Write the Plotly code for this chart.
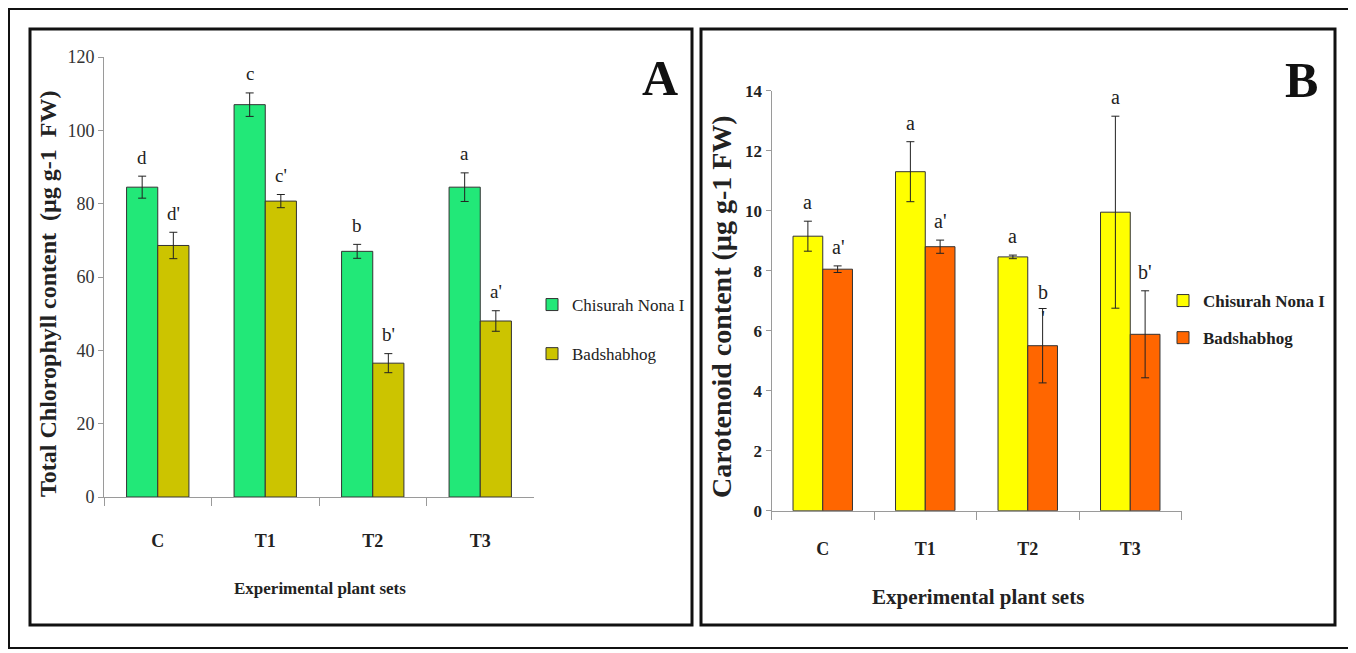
import plotly.graph_objects as go

W, H = 1356, 653

# ---------------- data ----------------
categories = ["C", "T1", "T2", "T3"]
series_names = ["Chisurah Nona I", "Badshabhog"]

chl_chisurah = [84.5, 107.0, 67.0, 84.5]
chl_chisurah_err = [3.0, 3.2, 1.9, 3.9]
chl_badshabhog = [68.6, 80.7, 36.5, 48.0]
chl_badshabhog_err = [3.6, 1.8, 2.6, 2.8]
chl_letters_chisurah = ["d", "c", "b", "a"]
chl_letters_badshabhog = ["d'", "c'", "b'", "a'"]

car_chisurah = [9.15, 11.3, 8.46, 9.95]
car_chisurah_err = [0.5, 1.0, 0.06, 3.2]
car_badshabhog = [8.05, 8.8, 5.5, 5.88]
car_badshabhog_err = [0.11, 0.22, 1.24, 1.45]
car_letters_chisurah = ["a", "a", "a", "a"]
car_letters_badshabhog = ["a'", "a'", "b<br>'", "b'"]

chl_ticks = [0, 20, 40, 60, 80, 100, 120]
car_ticks = [0, 2, 4, 6, 8, 10, 12, 14]

# ---------------- style ----------------
FONT = "Liberation Serif"
GREEN, OLIVE = "#22E878", "#CCC400"
YELLOW, ORANGE = "#FFFF00", "#FF6600"
BARGAP = 0.42
OFF = (1 - BARGAP) / 4  # half of one bar width, in category units
PAGE_OFFSET = 8  # the page body margin shifts the figure by 8 px


def X(px):
    return (px - PAGE_OFFSET) / W


def Y(py):
    return 1 - (py - PAGE_OFFSET) / H


fig = go.Figure()


def add_bars(xa, ya, vals, errs, color, name, legend, group):
    fig.add_trace(go.Bar(
        x=categories, y=vals, name=name, xaxis=xa, yaxis=ya,
        marker=dict(color=color, line=dict(color="#333333", width=1)),
        error_y=dict(type="data", array=errs, visible=True,
                     color="#222222", thickness=1, width=4),
        legend=legend, legendgroup=group,
    ))


add_bars("x", "y", chl_chisurah, chl_chisurah_err, GREEN, series_names[0], "legend", "a1")
add_bars("x", "y", chl_badshabhog, chl_badshabhog_err, OLIVE, series_names[1], "legend", "a2")
add_bars("x2", "y2", car_chisurah, car_chisurah_err, YELLOW, series_names[0], "legend2", "b1")
add_bars("x2", "y2", car_badshabhog, car_badshabhog_err, ORANGE, series_names[1], "legend2", "b2")

annotations = []


def add_letters(xref, yref, vals, errs, letters, side, size):
    for i, (v, e, t) in enumerate(zip(vals, errs, letters)):
        two = "<br>" in t
        annotations.append(dict(
            x=i + side * OFF, y=v + e, xref=xref, yref=yref, text=t,
            showarrow=False, yanchor="middle", xanchor="center",
            yshift=(4 if two else 19),
            font=dict(family=FONT, size=size, color="#222222"),
        ))


add_letters("x", "y", chl_chisurah, chl_chisurah_err, chl_letters_chisurah, -1, 19)
add_letters("x", "y", chl_badshabhog, chl_badshabhog_err, chl_letters_badshabhog, 1, 19)
add_letters("x2", "y2", car_chisurah, car_chisurah_err, car_letters_chisurah, -1, 20)
add_letters("x2", "y2", car_badshabhog, car_badshabhog_err, car_letters_badshabhog, 1, 20)


def label(px, py, text, size, bold=True, angle=0, color="#222222"):
    return dict(x=X(px), y=Y(py), xref="paper", yref="paper", showarrow=False,
                xanchor="center", yanchor="middle", text=text, textangle=angle,
                font=dict(family=FONT, size=size, color=color,
                          weight="bold" if bold else "normal"))


annotations += [
    label(48, 294, "Total Chlorophyll content  (µg g-1  FW)", 24, angle=-90),
    label(320, 588, "Experimental plant sets", 17),
    label(721, 306, "Carotenoid content (µg g-1 FW)", 28, angle=-90),
    label(978, 597, "Experimental plant sets", 21),
    label(660, 78, "A", 50, color="#111111"),
    label(1301, 80, "B", 50, color="#111111"),
]

shapes = [
    dict(type="rect", xref="paper", yref="paper", x0=X(9), x1=X(1350), y0=Y(648), y1=Y(9),
         line=dict(color="#111111", width=2)),
    dict(type="rect", xref="paper", yref="paper", x0=X(30), x1=X(692), y0=Y(625), y1=Y(29),
         line=dict(color="#111111", width=3)),
    dict(type="rect", xref="paper", yref="paper", x0=X(701), x1=X(1335), y0=Y(625), y1=Y(29),
         line=dict(color="#111111", width=3)),
]

xcommon = dict(type="category", range=[-0.5, 3.5], showline=True, linecolor="#9a9a9a",
               linewidth=1, ticks="outside", tickson="boundaries", ticklen=8,
               tickcolor="#9a9a9a", showgrid=False, zeroline=False, fixedrange=True,
               automargin=False)
ycommon = dict(showline=True, linecolor="#9a9a9a", linewidth=1, ticks="outside",
               ticklen=5, tickcolor="#9a9a9a", showgrid=False, zeroline=False,
               fixedrange=True, automargin=False)

fig.update_layout(
    template="none",
    width=W, height=H, margin=dict(l=0, r=0, t=0, b=0, pad=0, autoexpand=False),
    paper_bgcolor="white", plot_bgcolor="white",
    barmode="group", bargap=BARGAP, bargroupgap=0,
    showlegend=True,
    xaxis=dict(xcommon, domain=[X(104), X(534)], anchor="y",
               tickfont=dict(family=FONT, size=18, color="#222222", weight="bold"),
               ticklabelstandoff=27),
    yaxis=dict(ycommon, domain=[Y(497), Y(57)], anchor="x", range=[0, 120],
               tickvals=chl_ticks,
               tickfont=dict(family=FONT, size=18, color="#333333")),
    xaxis2=dict(xcommon, domain=[X(771.5), X(1181.5)], anchor="y2",
                tickfont=dict(family=FONT, size=18, color="#222222", weight="bold"),
                ticklabelstandoff=22),
    yaxis2=dict(ycommon, domain=[Y(510.7), Y(90.7)], anchor="x2", range=[0, 14],
                tickvals=car_ticks,
                tickfont=dict(family=FONT, size=17, color="#222222", weight="bold")),
    legend=dict(x=X(532), y=Y(287), xanchor="left", yanchor="top",
                traceorder="grouped", tracegroupgap=24, bgcolor="rgba(0,0,0,0)",
                font=dict(family=FONT, size=17, color="#222222")),
    legend2=dict(x=X(1163), y=Y(283), xanchor="left", yanchor="top",
                 traceorder="grouped", tracegroupgap=12, bgcolor="rgba(0,0,0,0)",
                 font=dict(family=FONT, size=17, color="#222222", weight="bold")),
    annotations=annotations,
    shapes=shapes,
)

fig.write_html("out.html")
